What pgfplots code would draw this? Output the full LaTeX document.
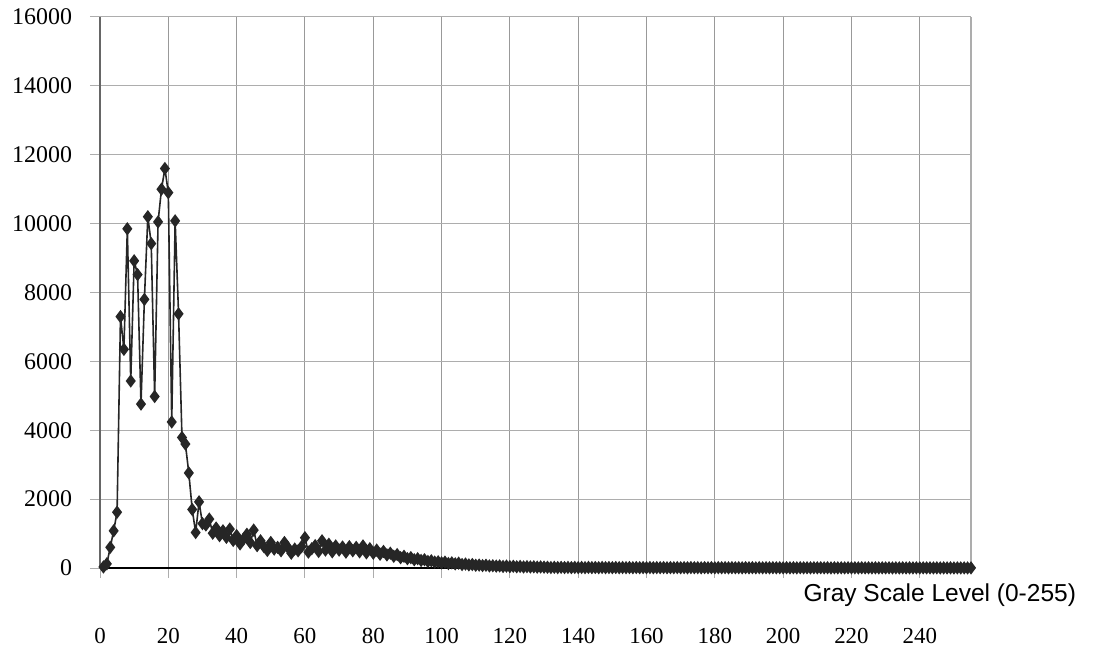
\documentclass[border=0pt]{standalone}
\usepackage{fontspec}
\setmainfont{Liberation Serif}
\newfontfamily\arialfont{Liberation Sans}
\usepackage{pgfplots}
\pgfplotsset{compat=1.18}
\usepackage{pgfplotstable}

% Pixel counts per gray level
\pgfplotstableread{
level count
1 30
2 120
3 600
4 1080
5 1620
6 7300
7 6350
8 9850
9 5430
10 8920
11 8520
12 4760
13 7800
14 10200
15 9420
16 4980
17 10050
18 11000
19 11600
20 10900
21 4240
22 10080
23 7380
24 3790
25 3600
26 2760
27 1700
28 1030
29 1920
30 1290
31 1250
32 1420
33 1010
34 1160
35 940
36 1080
37 890
38 1130
39 800
40 940
41 700
42 840
43 980
44 740
45 1100
46 650
47 790
48 620
49 510
50 740
51 550
52 600
53 500
54 740
55 600
56 430
57 550
58 500
59 620
60 880
61 460
62 560
63 650
64 480
65 790
66 520
67 690
68 470
69 640
70 520
71 610
72 460
73 620
74 500
75 600
76 470
77 640
78 440
79 560
80 430
81 520
82 400
83 480
84 380
85 430
86 340
87 390
88 300
89 340
90 270
91 300
92 240
93 270
94 220
95 240
96 190
97 210
98 170
99 180
100 150
101 170
102 130
103 150
104 120
105 140
106 100
107 115
108 90
109 100
110 80
111 85
112 70
113 80
114 60
115 65
116 55
117 60
118 45
119 55
120 40
121 50
122 35
123 45
124 30
125 40
126 30
127 35
128 25
129 30
130 25
131 22
132 14
133 20
134 12
135 19
136 13
137 18
138 11
139 17
140 12
141 16
142 10
143 17
144 11
145 15
146 9
147 16
148 10
149 14
150 9
151 15
152 8
153 14
154 10
155 13
156 8
157 14
158 9
159 12
160 8
161 13
162 7
163 12
164 9
165 13
166 7
167 11
168 8
169 12
170 7
171 11
172 6
173 12
174 8
175 10
176 6
177 11
178 7
179 10
180 6
181 11
182 7
183 10
184 5
185 10
186 7
187 9
188 5
189 10
190 6
191 9
192 5
193 10
194 6
195 8
196 5
197 9
198 6
199 8
200 4
201 9
202 5
203 8
204 4
205 8
206 5
207 7
208 4
209 8
210 5
211 7
212 4
213 8
214 3
215 7
216 4
217 6
218 3
219 7
220 4
221 6
222 3
223 7
224 4
225 6
226 3
227 6
228 3
229 5
230 3
231 6
232 2
233 5
234 3
235 6
236 2
237 5
238 3
239 5
240 2
241 5
242 3
243 4
244 2
245 5
246 2
247 4
248 2
249 4
250 1
251 4
252 2
253 3
254 1
255 3
}\histdata

\definecolor{gridgray}{gray}{0.68}
\definecolor{vgridgray}{gray}{0.60}
\definecolor{axisgray}{gray}{0.40}

\begin{document}
\begin{tikzpicture}
\useasboundingbox (0,0) rectangle (547.5bp,326bp);
\begin{axis}[
  at={(50bp,42bp)}, anchor=south west,
  scale only axis, width=435.5bp, height=275.5bp,
  xmin=0, xmax=255, ymin=0, ymax=16000,
  xtick={0,20,...,240}, ytick={0,2000,...,16000},
  scaled y ticks=false,
  tick pos=left,
  grid=major, major grid style={gridgray, line width=0.5bp},
  x grid style={vgridgray, line width=0.5bp},
  tick align=outside, major tick length=5bp,
  tick style={gridgray, line width=0.5bp},
  axis line style={draw=none},
  /pgf/number format/assume math mode=true,
  /pgf/number format/1000 sep={},
  yticklabel style={font=\fontsize{12}{13}\selectfont, xshift=-5.5bp},
  xticklabel style={font=\fontsize{11.5}{13}\selectfont, yshift=-21.5bp},
  xlabel={Gray Scale Level (0-255)},
  xlabel style={font=\arialfont\fontsize{12.3}{14}\selectfont,
    at={(axis description cs:1,0)}, anchor=east, xshift=56bp, yshift=-13.5bp},
  clip=false,
]
% frame: dark left edge, dotted top, light right edge
\draw[gridgray, line width=0.5bp, dash pattern=on 0.6bp off 0.6bp] (rel axis cs:0,1) -- (rel axis cs:1,1);
\draw[gridgray, line width=0.6bp] (rel axis cs:1,0) -- (rel axis cs:1,1);
\draw[axisgray, line width=0.7bp] (rel axis cs:0,0) -- (rel axis cs:0,1);
\draw[black, line width=0.9bp] (rel axis cs:0,0) -- (rel axis cs:1,0);
\addplot[black!85, line width=0.8bp, mark=diamond*, mark size=2.7bp,
  mark options={fill=black!85, draw=black!85}]
  table[x=level, y=count] {\histdata};
\end{axis}
\end{tikzpicture}
\end{document}
